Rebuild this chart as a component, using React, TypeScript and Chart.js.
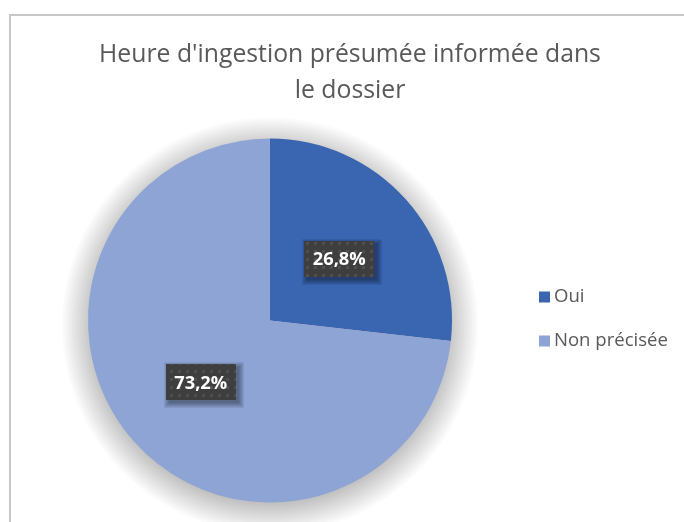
import React, { useEffect, useRef } from "react";
import { Chart, registerables } from "chart.js";

Chart.register(...registerables);

const titleLines = ["Heure d'ingestion présumée informée dans", "le dossier"];
const categories = ["Oui", "Non précisée"];
const values = [26.8, 73.2];
const valueLabels = ["26,8%", "73,2%"];
const colors = ["#3A65B0", "#8EA4D4"];

const FONT = "'Open Sans', 'Noto Sans', sans-serif";

function makePattern(ctx: CanvasRenderingContext2D) {
  const c = document.createElement("canvas");
  c.width = 8;
  c.height = 8;
  const p = c.getContext("2d")!;
  p.fillStyle = "#3e3e3e";
  p.fillRect(0, 0, 8, 8);
  p.fillStyle = "#4f4f4f";
  p.fillRect(2, 2, 3, 3);
  return ctx.createPattern(c, "repeat")!;
}

function fitFont(ctx: CanvasRenderingContext2D, text: string, target: number, weight = "") {
  ctx.font = `${weight} 20px ${FONT}`;
  const w = ctx.measureText(text).width;
  const size = (20 * target) / w;
  return `${weight} ${size.toFixed(2)}px ${FONT}`;
}

const decorPlugin = {
  id: "decor",
  beforeDraw(chart: any) {
    const ctx: CanvasRenderingContext2D = chart.ctx;
    ctx.save();
    ctx.fillStyle = "#ffffff";
    ctx.fillRect(0, 0, chart.width, chart.height);
    ctx.strokeStyle = "#c8c8c8";
    ctx.lineWidth = 2;
    ctx.beginPath();
    ctx.moveTo(10, chart.height + 5);
    ctx.lineTo(10, 15);
    ctx.lineTo(chart.width + 5, 15);
    ctx.stroke();
    // title
    ctx.fillStyle = "#595959";
    ctx.font = fitFont(ctx, titleLines[0], 502);
    ctx.textAlign = "center";
    ctx.textBaseline = "alphabetic";
    ctx.fillText(titleLines[0], 350, 62);
    ctx.fillText(titleLines[1], 350, 97.5);
    // legend
    ctx.font = fitFont(ctx, categories[1], 114);
    ctx.textAlign = "left";
    ctx.textBaseline = "middle";
    const ys = [297, 341];
    categories.forEach((c, i) => {
      ctx.fillStyle = colors[i];
      ctx.fillRect(539, ys[i] - 5.5, 11, 11);
      ctx.fillStyle = "#595959";
      ctx.fillText(c, 554, ys[i]);
    });
    ctx.restore();
  },
  beforeDatasetsDraw(chart: any) {
    const ctx: CanvasRenderingContext2D = chart.ctx;
    const ca = chart.chartArea;
    const x = (ca.left + ca.right) / 2;
    const y = (ca.top + ca.bottom) / 2;
    const R = Math.min(ca.right - ca.left, ca.bottom - ca.top) / 2;
    ctx.save();
    for (let k = 30; k >= 0; k -= 2) {
      ctx.fillStyle = "rgba(0,0,0,0.014)";
      ctx.beginPath();
      ctx.arc(x, y + 5, R - 4 + k, 0, Math.PI * 2);
      ctx.fill();
    }
    ctx.restore();
  },
  afterDatasetsDraw(chart: any) {
    const ctx: CanvasRenderingContext2D = chart.ctx;
    const meta = chart.getDatasetMeta(0);
    const pattern = makePattern(ctx);
    meta.data.forEach((arc: any, i: number) => {
      const { x, y, startAngle, endAngle, outerRadius } = arc.getProps(
        ["x", "y", "startAngle", "endAngle", "outerRadius"],
        true
      );
      const mid = (startAngle + endAngle) / 2;
      const r = outerRadius * 0.51;
      const cx = x + Math.cos(mid) * r;
      const cy = y + Math.sin(mid) * r;
      ctx.save();
      ctx.font = fitFont(ctx, valueLabels[i], 53, "bold");
      const w = 70;
      const h = 36;
      const bx = Math.round(cx - w / 2);
      const by = Math.round(cy - h / 2);
      for (let k = 5; k >= 0; k--) {
        ctx.fillStyle = "rgba(0,0,0,0.07)";
        ctx.fillRect(bx + 3 - k, by + 3 - k, w + 2 * k, h + 2 * k);
      }
      ctx.fillStyle = pattern;
      ctx.fillRect(bx, by, w, h);
      ctx.fillStyle = "#ffffff";
      ctx.textAlign = "center";
      ctx.textBaseline = "middle";
      ctx.fillText(valueLabels[i], cx, cy + 1);
      ctx.restore();
    });
  },
};

export default function App() {
  const ref = useRef<HTMLCanvasElement>(null);
  useEffect(() => {
    if (!ref.current) return;
    const chart = new Chart(ref.current, {
      type: "pie",
      data: {
        labels: categories,
        datasets: [
          {
            data: values,
            backgroundColor: colors,
            borderWidth: 0,
          },
        ],
      },
      options: {
        responsive: false,
        animation: false,
        layout: { padding: { left: 88, right: 232, top: 138.5, bottom: 19.5 } },
        plugins: {
          legend: { display: false },
          title: { display: false },
          tooltip: { enabled: false },
        },
      },
      plugins: [decorPlugin],
    });
    return () => chart.destroy();
  }, []);
  return (
    <div style={{ position: "absolute", left: 0, top: 0, width: 684, height: 522 }}>
      <canvas ref={ref} width={684} height={522} style={{ display: "block" }} />
    </div>
  );
}
